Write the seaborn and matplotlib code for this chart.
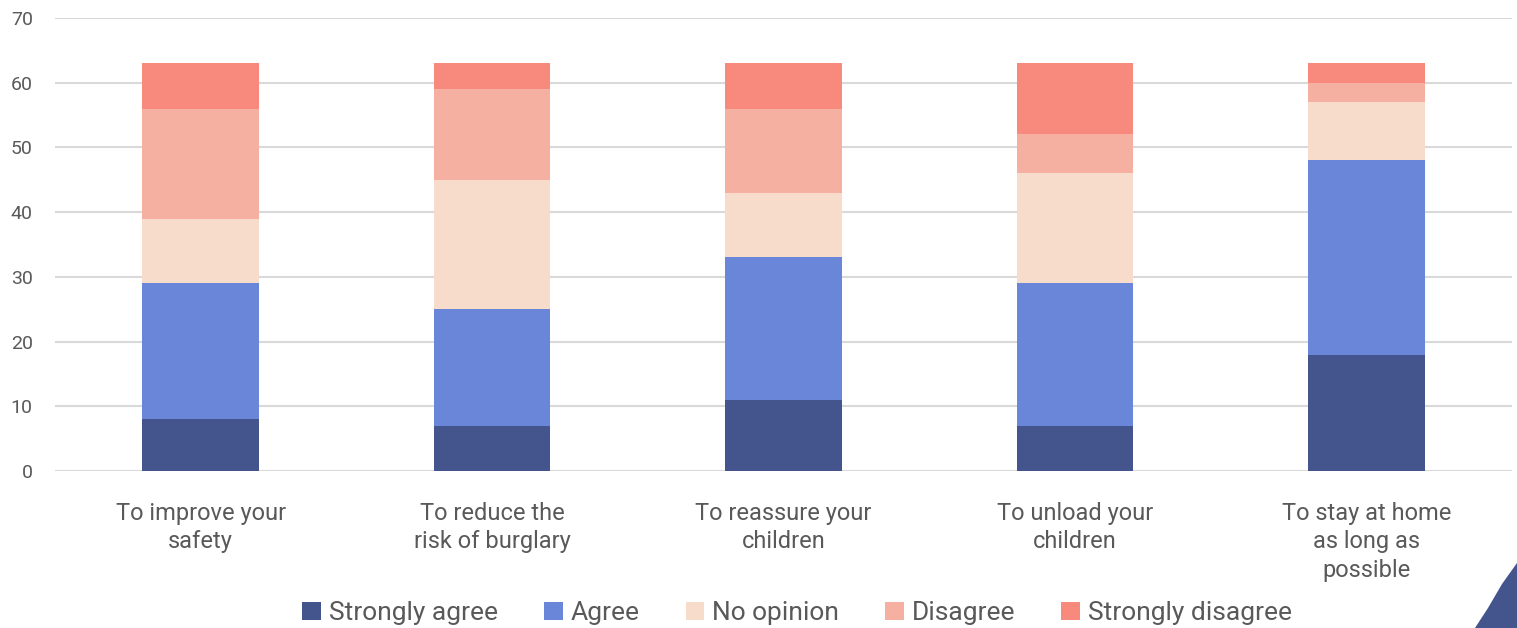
import matplotlib
matplotlib.use("Agg")
import matplotlib.pyplot as plt
from matplotlib.patches import Patch, Polygon
import numpy as np
import pandas as pd
import seaborn as sns

# Survey answers per reason (counts of respondents)
reasons = [
    "To improve your\nsafety",
    "To reduce the\nrisk of burglary",
    "To reassure your\nchildren",
    "To unload your\nchildren",
    "To stay at home\nas long as\npossible",
]
responses = ["Strongly agree", "Agree", "No opinion", "Disagree", "Strongly disagree"]
strongly_agree = [8, 7, 11, 7, 18]
agree = [21, 18, 22, 22, 30]
no_opinion = [10, 20, 10, 17, 9]
disagree = [17, 14, 13, 6, 3]
strongly_disagree = [7, 4, 7, 11, 3]
y_ticks = [0, 10, 20, 30, 40, 50, 60, 70]

colors = ["#44548C", "#6A86D8", "#F7DBCB", "#F6B0A1", "#F88A7D"]
text_gray = "#595959"
grid_gray = "#D9D9D9"

series = [strongly_agree, agree, no_opinion, disagree, strongly_disagree]
tops = np.cumsum(np.array(series), axis=0)  # stack tops for each response level

sns.set_theme(style="white")
plt.rcParams["font.family"] = ["Roboto", "DejaVu Sans"]

fig = plt.figure(figsize=(15.17, 6.28), dpi=100)
ax = fig.add_axes([55 / 1517, 157 / 628, 1457 / 1517, 453 / 628])

# Draw from the tallest cumulative stack down so each lower segment covers the one above
for level in range(len(responses) - 1, -1, -1):
    df = pd.DataFrame({"reason": reasons, "top": tops[level]})
    sns.barplot(data=df, x="reason", y="top", color=colors[level], width=0.4,
                saturation=1, linewidth=0, ax=ax, zorder=2)

ax.set_ylim(0, 70)
ax.set_xlim(-0.5, len(reasons) - 0.5)
ax.set_yticks(y_ticks)
ax.yaxis.grid(True, color=grid_gray, linewidth=1.5, zorder=0)
ax.set_axisbelow(True)
for s in ax.spines.values():
    s.set_visible(False)
ax.set_xlabel("")
ax.set_ylabel("")
ax.tick_params(axis="y", length=0, pad=16, labelsize=14, labelcolor=text_gray)
ax.tick_params(axis="x", length=0, pad=22, labelsize=17, labelcolor=text_gray)
for lbl in ax.get_yticklabels():
    lbl.set_horizontalalignment("right")
for lbl in ax.get_xticklabels():
    lbl.set_linespacing(1.32)

handles = [Patch(facecolor=c, edgecolor="none") for c in colors]
fig.legend(handles, responses, loc="center", bbox_to_anchor=(797 / 1517, 15 / 628),
           ncol=5, frameon=False, fontsize=19, labelcolor=text_gray,
           handlelength=0.7, handleheight=0.7, handletextpad=0.3, columnspacing=1.75)

# Decorative corner accent
corner = [(1475, 0), (1488, 20), (1502, 44), (1517, 65), (1517, 0)]
fig.patches.append(Polygon([(x / 1517, y / 628) for x, y in corner], closed=True,
                           transform=fig.transFigure, facecolor="#44548C",
                           edgecolor="none", figure=fig))

fig.savefig("out.png", dpi=100)
